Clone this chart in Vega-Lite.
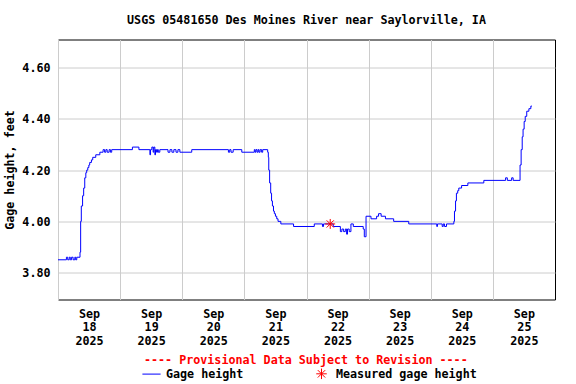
{
  "$schema": "https://vega.github.io/schema/vega-lite/v6.json",
  "width": 497,
  "height": 260,
  "autosize": {"type": "none"},
  "padding": {"left": 58, "top": 39.5, "right": 21, "bottom": 84.5},
  "background": "white",
  "title": {
    "text": "USGS 05481650 Des Moines River near Saylorville, IA",
    "font": "DejaVu Sans Mono",
    "fontSize": 11.7,
    "fontWeight": "bold",
    "color": "black",
    "anchor": "middle",
    "offset": 13
  },
  "datasets": {
    "gage": [
      {"t": "2025-09-18T00:00Z", "v": 3.85},
      {"t": "2025-09-18T03:15Z", "v": 3.86},
      {"t": "2025-09-18T03:45Z", "v": 3.85},
      {"t": "2025-09-18T04:20Z", "v": 3.86},
      {"t": "2025-09-18T04:45Z", "v": 3.85},
      {"t": "2025-09-18T05:15Z", "v": 3.86},
      {"t": "2025-09-18T05:50Z", "v": 3.85},
      {"t": "2025-09-18T06:30Z", "v": 3.86},
      {"t": "2025-09-18T06:50Z", "v": 3.85},
      {"t": "2025-09-18T07:15Z", "v": 3.86},
      {"t": "2025-09-18T08:30Z", "v": 3.88},
      {"t": "2025-09-18T08:45Z", "v": 4.00},
      {"t": "2025-09-18T09:00Z", "v": 4.06},
      {"t": "2025-09-18T09:30Z", "v": 4.10},
      {"t": "2025-09-18T09:55Z", "v": 4.13},
      {"t": "2025-09-18T10:20Z", "v": 4.17},
      {"t": "2025-09-18T10:45Z", "v": 4.19},
      {"t": "2025-09-18T11:05Z", "v": 4.20},
      {"t": "2025-09-18T11:30Z", "v": 4.21},
      {"t": "2025-09-18T11:55Z", "v": 4.22},
      {"t": "2025-09-18T12:15Z", "v": 4.23},
      {"t": "2025-09-18T12:55Z", "v": 4.24},
      {"t": "2025-09-18T13:25Z", "v": 4.25},
      {"t": "2025-09-18T14:35Z", "v": 4.26},
      {"t": "2025-09-18T16:10Z", "v": 4.27},
      {"t": "2025-09-18T17:25Z", "v": 4.28},
      {"t": "2025-09-18T18:00Z", "v": 4.27},
      {"t": "2025-09-18T18:30Z", "v": 4.28},
      {"t": "2025-09-18T19:00Z", "v": 4.27},
      {"t": "2025-09-18T19:45Z", "v": 4.28},
      {"t": "2025-09-18T20:15Z", "v": 4.27},
      {"t": "2025-09-18T20:45Z", "v": 4.28},
      {"t": "2025-09-19T04:45Z", "v": 4.29},
      {"t": "2025-09-19T07:15Z", "v": 4.28},
      {"t": "2025-09-19T11:30Z", "v": 4.26},
      {"t": "2025-09-19T11:45Z", "v": 4.28},
      {"t": "2025-09-19T12:15Z", "v": 4.29},
      {"t": "2025-09-19T12:45Z", "v": 4.27},
      {"t": "2025-09-19T13:00Z", "v": 4.29},
      {"t": "2025-09-19T13:25Z", "v": 4.26},
      {"t": "2025-09-19T13:40Z", "v": 4.28},
      {"t": "2025-09-19T14:05Z", "v": 4.27},
      {"t": "2025-09-19T14:25Z", "v": 4.28},
      {"t": "2025-09-19T14:45Z", "v": 4.27},
      {"t": "2025-09-19T15:20Z", "v": 4.28},
      {"t": "2025-09-19T18:30Z", "v": 4.27},
      {"t": "2025-09-19T19:15Z", "v": 4.28},
      {"t": "2025-09-19T20:00Z", "v": 4.27},
      {"t": "2025-09-19T20:45Z", "v": 4.28},
      {"t": "2025-09-19T21:35Z", "v": 4.27},
      {"t": "2025-09-19T22:20Z", "v": 4.28},
      {"t": "2025-09-19T23:05Z", "v": 4.27},
      {"t": "2025-09-20T03:40Z", "v": 4.28},
      {"t": "2025-09-20T17:50Z", "v": 4.27},
      {"t": "2025-09-20T18:20Z", "v": 4.28},
      {"t": "2025-09-20T18:50Z", "v": 4.27},
      {"t": "2025-09-20T19:40Z", "v": 4.28},
      {"t": "2025-09-20T23:00Z", "v": 4.27},
      {"t": "2025-09-21T03:50Z", "v": 4.28},
      {"t": "2025-09-21T04:10Z", "v": 4.27},
      {"t": "2025-09-21T04:30Z", "v": 4.28},
      {"t": "2025-09-21T04:55Z", "v": 4.27},
      {"t": "2025-09-21T05:20Z", "v": 4.28},
      {"t": "2025-09-21T05:40Z", "v": 4.27},
      {"t": "2025-09-21T06:05Z", "v": 4.28},
      {"t": "2025-09-21T06:40Z", "v": 4.27},
      {"t": "2025-09-21T07:05Z", "v": 4.28},
      {"t": "2025-09-21T09:00Z", "v": 4.27},
      {"t": "2025-09-21T09:15Z", "v": 4.25},
      {"t": "2025-09-21T09:25Z", "v": 4.20},
      {"t": "2025-09-21T09:45Z", "v": 4.15},
      {"t": "2025-09-21T10:10Z", "v": 4.11},
      {"t": "2025-09-21T10:30Z", "v": 4.08},
      {"t": "2025-09-21T10:50Z", "v": 4.06},
      {"t": "2025-09-21T11:15Z", "v": 4.04},
      {"t": "2025-09-21T11:35Z", "v": 4.03},
      {"t": "2025-09-21T12:00Z", "v": 4.02},
      {"t": "2025-09-21T12:30Z", "v": 4.01},
      {"t": "2025-09-21T13:00Z", "v": 4.00},
      {"t": "2025-09-21T14:05Z", "v": 3.99},
      {"t": "2025-09-21T19:00Z", "v": 3.98},
      {"t": "2025-09-22T03:00Z", "v": 3.99},
      {"t": "2025-09-22T06:10Z", "v": 3.98},
      {"t": "2025-09-22T06:35Z", "v": 3.99},
      {"t": "2025-09-22T10:20Z", "v": 3.98},
      {"t": "2025-09-22T13:05Z", "v": 3.96},
      {"t": "2025-09-22T13:40Z", "v": 3.97},
      {"t": "2025-09-22T14:20Z", "v": 3.96},
      {"t": "2025-09-22T15:00Z", "v": 3.97},
      {"t": "2025-09-22T15:30Z", "v": 3.95},
      {"t": "2025-09-22T15:50Z", "v": 3.97},
      {"t": "2025-09-22T16:30Z", "v": 3.96},
      {"t": "2025-09-22T17:10Z", "v": 3.99},
      {"t": "2025-09-22T18:05Z", "v": 3.98},
      {"t": "2025-09-22T21:55Z", "v": 3.97},
      {"t": "2025-09-22T22:20Z", "v": 3.94},
      {"t": "2025-09-22T23:00Z", "v": 4.02},
      {"t": "2025-09-23T00:55Z", "v": 4.01},
      {"t": "2025-09-23T03:05Z", "v": 4.02},
      {"t": "2025-09-23T03:50Z", "v": 4.03},
      {"t": "2025-09-23T04:50Z", "v": 4.02},
      {"t": "2025-09-23T06:30Z", "v": 4.01},
      {"t": "2025-09-23T09:40Z", "v": 4.00},
      {"t": "2025-09-23T15:30Z", "v": 3.99},
      {"t": "2025-09-24T02:20Z", "v": 3.98},
      {"t": "2025-09-24T02:35Z", "v": 3.99},
      {"t": "2025-09-24T04:25Z", "v": 3.98},
      {"t": "2025-09-24T04:50Z", "v": 3.99},
      {"t": "2025-09-24T05:20Z", "v": 3.98},
      {"t": "2025-09-24T06:05Z", "v": 3.99},
      {"t": "2025-09-24T08:55Z", "v": 4.00},
      {"t": "2025-09-24T09:10Z", "v": 4.04},
      {"t": "2025-09-24T09:35Z", "v": 4.08},
      {"t": "2025-09-24T09:55Z", "v": 4.11},
      {"t": "2025-09-24T10:25Z", "v": 4.12},
      {"t": "2025-09-24T10:50Z", "v": 4.13},
      {"t": "2025-09-24T11:55Z", "v": 4.14},
      {"t": "2025-09-24T14:20Z", "v": 4.15},
      {"t": "2025-09-24T20:30Z", "v": 4.16},
      {"t": "2025-09-25T04:55Z", "v": 4.17},
      {"t": "2025-09-25T05:35Z", "v": 4.16},
      {"t": "2025-09-25T07:15Z", "v": 4.17},
      {"t": "2025-09-25T07:50Z", "v": 4.16},
      {"t": "2025-09-25T10:30Z", "v": 4.22},
      {"t": "2025-09-25T10:55Z", "v": 4.28},
      {"t": "2025-09-25T11:20Z", "v": 4.33},
      {"t": "2025-09-25T11:40Z", "v": 4.36},
      {"t": "2025-09-25T12:05Z", "v": 4.39},
      {"t": "2025-09-25T12:30Z", "v": 4.41},
      {"t": "2025-09-25T13:05Z", "v": 4.43},
      {"t": "2025-09-25T13:55Z", "v": 4.44},
      {"t": "2025-09-25T14:40Z", "v": 4.45},
      {"t": "2025-09-25T15:05Z", "v": 4.45}
    ],
    "measured": [
      {"t": "2025-09-22T09:10Z", "v": 3.99}
    ]
  },
  "encoding": {
    "x": {
      "field": "t",
      "type": "temporal",
      "scale": {
        "type": "utc",
        "domain": [
          {"year": 2025, "month": 9, "date": 18, "utc": true},
          {"year": 2025, "month": 9, "date": 26, "utc": true}
        ]
      },
      "axis": {
        "title": null,
        "values": [
          {"year": 2025, "month": 9, "date": 18, "utc": true},
          {"year": 2025, "month": 9, "date": 19, "utc": true},
          {"year": 2025, "month": 9, "date": 20, "utc": true},
          {"year": 2025, "month": 9, "date": 21, "utc": true},
          {"year": 2025, "month": 9, "date": 22, "utc": true},
          {"year": 2025, "month": 9, "date": 23, "utc": true},
          {"year": 2025, "month": 9, "date": 24, "utc": true},
          {"year": 2025, "month": 9, "date": 25, "utc": true}
        ],
        "labelExpr": "[utcFormat(datum.value, '%b'), utcFormat(datum.value, '%d'), utcFormat(datum.value, '%Y')]",
        "labelOffset": 31,
        "labelPadding": 9,
        "labelLineHeight": 13.3,
        "labelBaseline": "top",
        "labelAlign": "center",
        "labelOverlap": false,
        "labelFlush": false,
        "labelBound": false,
        "ticks": false,
        "domain": false,
        "grid": true
      }
    },
    "y": {
      "field": "v",
      "type": "quantitative",
      "scale": {"domain": [3.695, 4.71], "nice": false, "zero": false},
      "axis": {
        "title": "Gage height, feet",
        "values": [3.8, 4.0, 4.2, 4.4, 4.6],
        "format": ".2f",
        "ticks": false,
        "domain": false,
        "grid": true,
        "labelPadding": 8,
        "titlePadding": 6
      }
    },
    "color": {
      "field": "s",
      "type": "nominal",
      "scale": {
        "domain": ["Gage height", "Measured gage height"],
        "range": ["#0000ff", "#ff0000"]
      },
      "legend": {
        "title": "---- Provisional Data Subject to Revision ----",
        "orient": "none",
        "legendX": 86,
        "legendY": 315,
        "direction": "horizontal",
        "columns": 2,
        "padding": 0,
        "titleColor": "#ff0000",
        "titleAnchor": "start",
        "titleLimit": 800,
        "titlePadding": 0,
        "symbolSize": 196,
        "symbolStrokeWidth": 1,
        "labelOffset": 7,
        "columnPadding": 70,
        "encode": {
          "symbols": {
            "update": {
              "shape": {"signal": "datum.value === 'Gage height' ? 'M-1.3,0L1.3,0' : 'M0,-0.75L0,0.75M-0.75,0L0.75,0M-0.53,-0.53L0.53,0.53M-0.53,0.53L0.53,-0.53'"},
              "fill": {"value": "transparent"},
              "stroke": {"signal": "datum.value === 'Gage height' ? '#0000ff' : '#ff0000'"},
              "strokeWidth": {"value": 1},
              "opacity": {"value": 1}
            }
          }
        }
      }
    }
  },
  "layer": [
    {
      "data": {"name": "gage"},
      "transform": [{"calculate": "'Gage height'", "as": "s"}],
      "mark": {"type": "line", "interpolate": "step-after", "strokeWidth": 1, "clip": true}
    },
    {
      "data": {"name": "measured"},
      "transform": [{"calculate": "'Measured gage height'", "as": "s"}],
      "mark": {
        "type": "point",
        "filled": false,
        "shape": "M0,-0.55L0,0.55M-0.55,0L0.55,0M-0.4,-0.4L0.4,0.4M-0.4,0.4L0.4,-0.4",
        "size": 324,
        "strokeWidth": 1,
        "opacity": 1
      }
    }
  ],
  "config": {
    "font": "DejaVu Sans Mono",
    "view": {"stroke": "black", "strokeWidth": 1},
    "axis": {
      "labelFont": "DejaVu Sans Mono",
      "labelFontSize": 11.7,
      "labelFontWeight": "bold",
      "labelColor": "black",
      "titleFont": "DejaVu Sans Mono",
      "titleFontSize": 11.7,
      "titleFontWeight": "bold",
      "titleColor": "black",
      "gridColor": "#cccccc",
      "gridWidth": 1,
      "gridOpacity": 1
    },
    "legend": {
      "labelFont": "DejaVu Sans Mono",
      "labelFontSize": 11.7,
      "labelFontWeight": "bold",
      "labelColor": "black",
      "titleFont": "DejaVu Sans Mono",
      "titleFontSize": 11.7,
      "titleFontWeight": "bold"
    }
  }
}
